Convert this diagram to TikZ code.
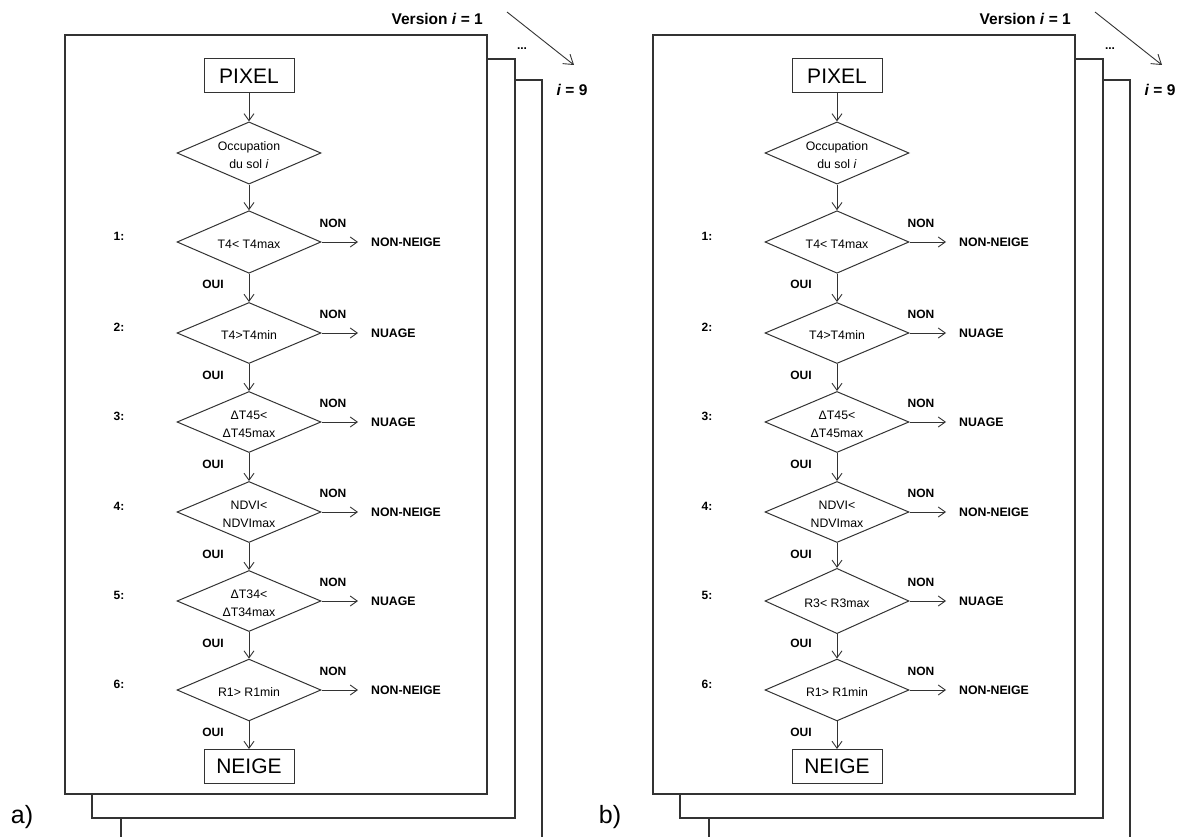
\documentclass[tikz,border=0pt]{standalone}
\usepackage{fontspec}
\setmainfont{Liberation Sans}
\usetikzlibrary{shapes.geometric,arrows.meta}
\newcommand{\dtext}[1]{\smash{\raisebox{\dimexpr-0.5ex-2.5pt\relax}{\begin{tabular}{@{}c@{}}#1\end{tabular}}}}
\tikzset{
  frame/.style={draw=black!80, line width=1.1pt, fill=white},
  dia/.style={diamond, draw=black!80, line width=1pt, inner sep=0pt, minimum width=144pt, minimum height=61pt, font=\fontsize{12.3}{18}\selectfont},
  termbox/.style={draw=black!80, line width=1pt, minimum width=90pt, minimum height=34pt, inner sep=0pt, font=\fontsize{21}{24}\selectfont},
  flow/.style={-{Straight Barb[length=7pt,width=10pt]}, line width=0.9pt, draw=black!80},
  bigflow/.style={-{Straight Barb[length=9pt,width=12pt]}, line width=0.9pt, draw=black!80},
  lbl/.style={font=\bfseries\fontsize{12}{14}\selectfont, inner sep=0pt},
  res/.style={font=\bfseries\fontsize{12.3}{14}\selectfont, anchor=west, inner sep=0pt},
  stepnum/.style={font=\bfseries\fontsize{12}{14}\selectfont, inner sep=0pt},
  ver/.style={font=\bfseries\fontsize{15.5}{18}\selectfont, inner sep=0pt},
  panlab/.style={font=\fontsize{25}{28}\selectfont, inner sep=0pt}
}
\newcommand{\flowpanel}[4]{%
\begin{scope}[xshift=#2pt]
  \draw[frame] (121,80) rectangle (542,860);
  \draw[frame] (92,59) rectangle (515,818);
  \draw[frame] (65,35) rectangle (487,794);
  \node[ver, anchor=east] (#1ver) at (483,19) {Version \textit{i} = 1};
  \coordinate (#1vs) at (507,12);
  \coordinate (#1ve) at (574,65);
  \draw[bigflow] (#1vs) -- (#1ve);
  \node[lbl] (#1dots) at (522,49) {...};
  \node[ver] (#1nine) at (572,90) {\textit{i} = 9};
  \node[panlab] (#1lab) at (22,817) {#4};
  \node[termbox] (#1pix) at (249,76) {PIXEL};
  \node[dia] (#1occ) at (249,153) {\dtext{Occupation\\du sol \textit{i}}};
  \foreach \k/\cy/\txt/\res in {1/242/{T4< T4max}/NON-NEIGE, 2/333/{T4>T4min}/NUAGE, 3/422/{ΔT45<\\ΔT45max}/NUAGE, 4/512/{NDVI<\\NDVImax}/NON-NEIGE, 5/601/{#3}/NUAGE, 6/690/{R1> R1min}/NON-NEIGE}{
    \node[dia] (#1d\k) at (249,\cy) {\dtext{\txt}};
    \node[stepnum] (#1n\k) at (119,\cy-6) {\k:};
    \node[lbl] (#1non\k) at (333,\cy-19) {NON};
    \node[lbl] (#1oui\k) at (213,\cy+42) {OUI};
    \coordinate (#1e\k) at (358,\cy);
    \node[res] (#1r\k) at (371,\cy) {\res};
    \draw[flow] (#1d\k.east) -- (#1e\k);
  }
  \node[termbox] (#1neige) at (249,766.5) {NEIGE};
  \draw[flow] (#1pix) -- (#1occ);
  \draw[flow] (#1occ) -- (#1d1);
  \foreach \a/\b in {1/2,2/3,3/4,4/5,5/6}{
    \draw[flow] (#1d\a) -- (#1d\b);
  }
  \draw[flow] (#1d6) -- (#1neige);
\end{scope}}
\begin{document}
\begin{tikzpicture}[x=1pt,y=-1pt]
\useasboundingbox (0,0) rectangle (1183,837);
\begin{scope}
\clip (0,0) rectangle (1183,837);
\fill[white] (0,0) rectangle (1183,837);
\flowpanel{a}{0}{ΔT34<\\ΔT34max}{a)}
\flowpanel{b}{588}{R3< R3max}{b)}
\end{scope}
\end{tikzpicture}
\end{document}
